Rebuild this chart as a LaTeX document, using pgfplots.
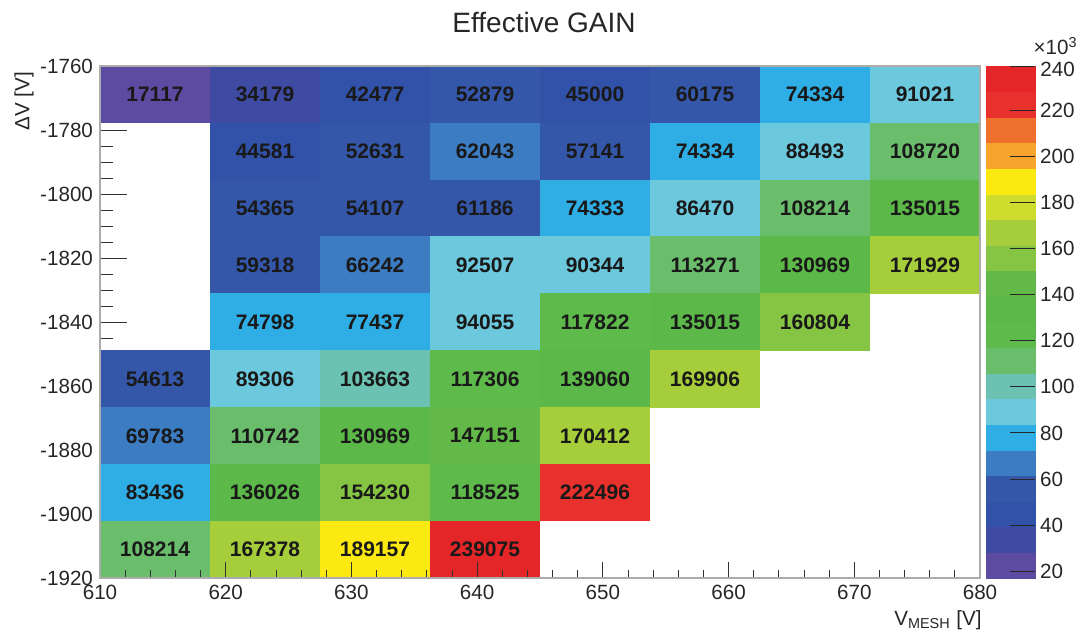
\documentclass[border=0pt]{standalone}
\usepackage{fontspec}
\setmainfont{Liberation Sans}
\usepackage{pgfplots}
\usepackage{pgfplotstable}
\pgfplotsset{compat=1.18}

% one histogram bin: 8.75 V x 17.78 V on a 440pt x 256pt frame
\pgfdeclareplotmark{cell}{%
  \pgfpathrectangle{\pgfpoint{-27.6pt}{-14.32pt}}{\pgfpoint{55.2pt}{28.64pt}}%
  \pgfusepathqfill}

\pgfplotstableread{
x y z
614.375 -1768.889 17117
623.125 -1768.889 34179
631.875 -1768.889 42477
640.625 -1768.889 52879
649.375 -1768.889 45000
658.125 -1768.889 60175
666.875 -1768.889 74334
675.625 -1768.889 91021
623.125 -1786.667 44581
631.875 -1786.667 52631
640.625 -1786.667 62043
649.375 -1786.667 57141
658.125 -1786.667 74334
666.875 -1786.667 88493
675.625 -1786.667 108720
623.125 -1804.444 54365
631.875 -1804.444 54107
640.625 -1804.444 61186
649.375 -1804.444 74333
658.125 -1804.444 86470
666.875 -1804.444 108214
675.625 -1804.444 135015
623.125 -1822.222 59318
631.875 -1822.222 66242
640.625 -1822.222 92507
649.375 -1822.222 90344
658.125 -1822.222 113271
666.875 -1822.222 130969
675.625 -1822.222 171929
623.125 -1840.000 74798
631.875 -1840.000 77437
640.625 -1840.000 94055
649.375 -1840.000 117822
658.125 -1840.000 135015
666.875 -1840.000 160804
614.375 -1857.778 54613
623.125 -1857.778 89306
631.875 -1857.778 103663
640.625 -1857.778 117306
649.375 -1857.778 139060
658.125 -1857.778 169906
614.375 -1875.556 69783
623.125 -1875.556 110742
631.875 -1875.556 130969
640.625 -1875.556 147151
649.375 -1875.556 170412
614.375 -1893.333 83436
623.125 -1893.333 136026
631.875 -1893.333 154230
640.625 -1893.333 118525
649.375 -1893.333 222496
614.375 -1911.111 108214
623.125 -1911.111 167378
631.875 -1911.111 189157
640.625 -1911.111 239075
}\gaintable

\begin{document}
\begin{tikzpicture}
\useasboundingbox (-50pt,-25.5pt) rectangle (490.5pt,289pt);
\begin{axis}[
  scale only axis, width=440pt, height=256pt,
  xmin=610, xmax=680, ymin=-1920, ymax=-1760,
  axis on top,
  axis line style={gray!65, line width=0.6pt},
  xtick=\empty,
  ytick={-1920,-1900,-1880,-1860,-1840,-1820,-1800,-1780,-1760},
  yticklabels={-1920,-1900,-1880,-1860,-1840,-1820,-1800,-1780,-1760},
  minor y tick num=3,
  ytick pos=left, tick align=inside,
  major tick length=13.5pt, minor tick length=6.7pt,
  ytick style={gray!40!black, line width=0.5pt},
  yticklabel style={font=\fontsize{10.3}{12}\selectfont, text=black!85},
  % 20 contour bands, as in ROOT's default COLZ
  colormap={rootgain}{
    rgb255=(92,75,160) rgb255=(63,75,163) rgb255=(50,81,168) rgb255=(52,87,169)
    rgb255=(59,124,194) rgb255=(47,174,229) rgb255=(107,200,221) rgb255=(108,194,178)
    rgb255=(106,190,107) rgb255=(95,186,76) rgb255=(92,184,72) rgb255=(98,185,71)
    rgb255=(134,196,67) rgb255=(166,205,58) rgb255=(206,220,46) rgb255=(253,233,18)
    rgb255=(246,164,43) rgb255=(238,112,44) rgb255=(232,49,44) rgb255=(228,38,40)},
  colormap access=piecewise constant,
  point meta min=17117, point meta max=239075,
  colorbar,
  colorbar style={
    at={(parent axis.north east)}, anchor=north west, xshift=-5.5pt,
    scale only axis, width=24.5pt, height=256pt,
    ytick={20000,40000,60000,80000,100000,120000,140000,160000,180000,200000,220000},
    yticklabels={20,40,60,80,100,120,140,160,180,200,220},
    scaled y ticks=false,
    ytick pos=right, tick align=inside, major tick length=12.5pt,
    ytick style={gray!30!black, line width=0.5pt},
    axis line style={draw=none},
    yticklabel style={font=\fontsize{10.3}{12}\selectfont, text=black!85, xshift=-1pt},
  },
]
% bins, coloured by gain
\addplot[scatter, only marks, mark=cell, point meta=explicit,
  scatter/use mapped color={draw=mapped color, fill=mapped color},
] table[x=x, y=y, meta=z] {\gaintable};
% bin contents as text
\addplot[only marks, mark=none, point meta=explicit symbolic,
  nodes near coords, nodes near coords align={center},
  every node near coord/.append style={text=black!90,
    font=\bfseries\fontsize{10.5}{12}\selectfont, inner sep=0pt},
] table[x=x, y=y, meta=z] {\gaintable};
\end{axis}
% second frame: x ticks are shorter than y ticks in the original
\begin{axis}[
  scale only axis, width=440pt, height=256pt,
  xmin=610, xmax=680, ymin=-1920, ymax=-1760,
  axis on top,
  axis line style={gray!65, line width=0.6pt},
  ytick=\empty,
  xtick={610,620,630,640,650,660,670,680},
  xticklabels={610,620,630,640,650,660,670,680},
  minor x tick num=4,
  xtick pos=bottom, tick align=inside,
  major tick length=8pt, minor tick length=4pt,
  xtick style={gray!40!black, line width=0.5pt},
  xticklabel style={font=\fontsize{10.3}{12}\selectfont, text=black!85},
]
\end{axis}
\node[font=\fontsize{14}{16}\selectfont, text=black!85] at (222pt,278pt) {Effective GAIN};
\node[rotate=90, anchor=east, font=\fontsize{10.3}{12}\selectfont, text=black!85]
  at (-38pt,256.5pt) {ΔV [V]};
\node[anchor=north east, font=\fontsize{10.3}{12}\selectfont, text=black!85, inner sep=0pt]
  at (441pt,-16pt) {V\textsubscript{MESH} [V]};
% colour-scale top label and multiplier
\draw[gray!30!black, line width=0.5pt] (455pt,255.6pt) -- (467.5pt,255.6pt);
\node[anchor=west, font=\fontsize{10.3}{12}\selectfont, text=black!85, inner sep=0pt]
  at (470pt,254.5pt) {240};
\node[anchor=south east, font=\fontsize{10.3}{12}\selectfont, text=black!85, inner sep=0pt]
  at (489pt,261.5pt) {×10\textsuperscript{3}};
\end{tikzpicture}
\end{document}
